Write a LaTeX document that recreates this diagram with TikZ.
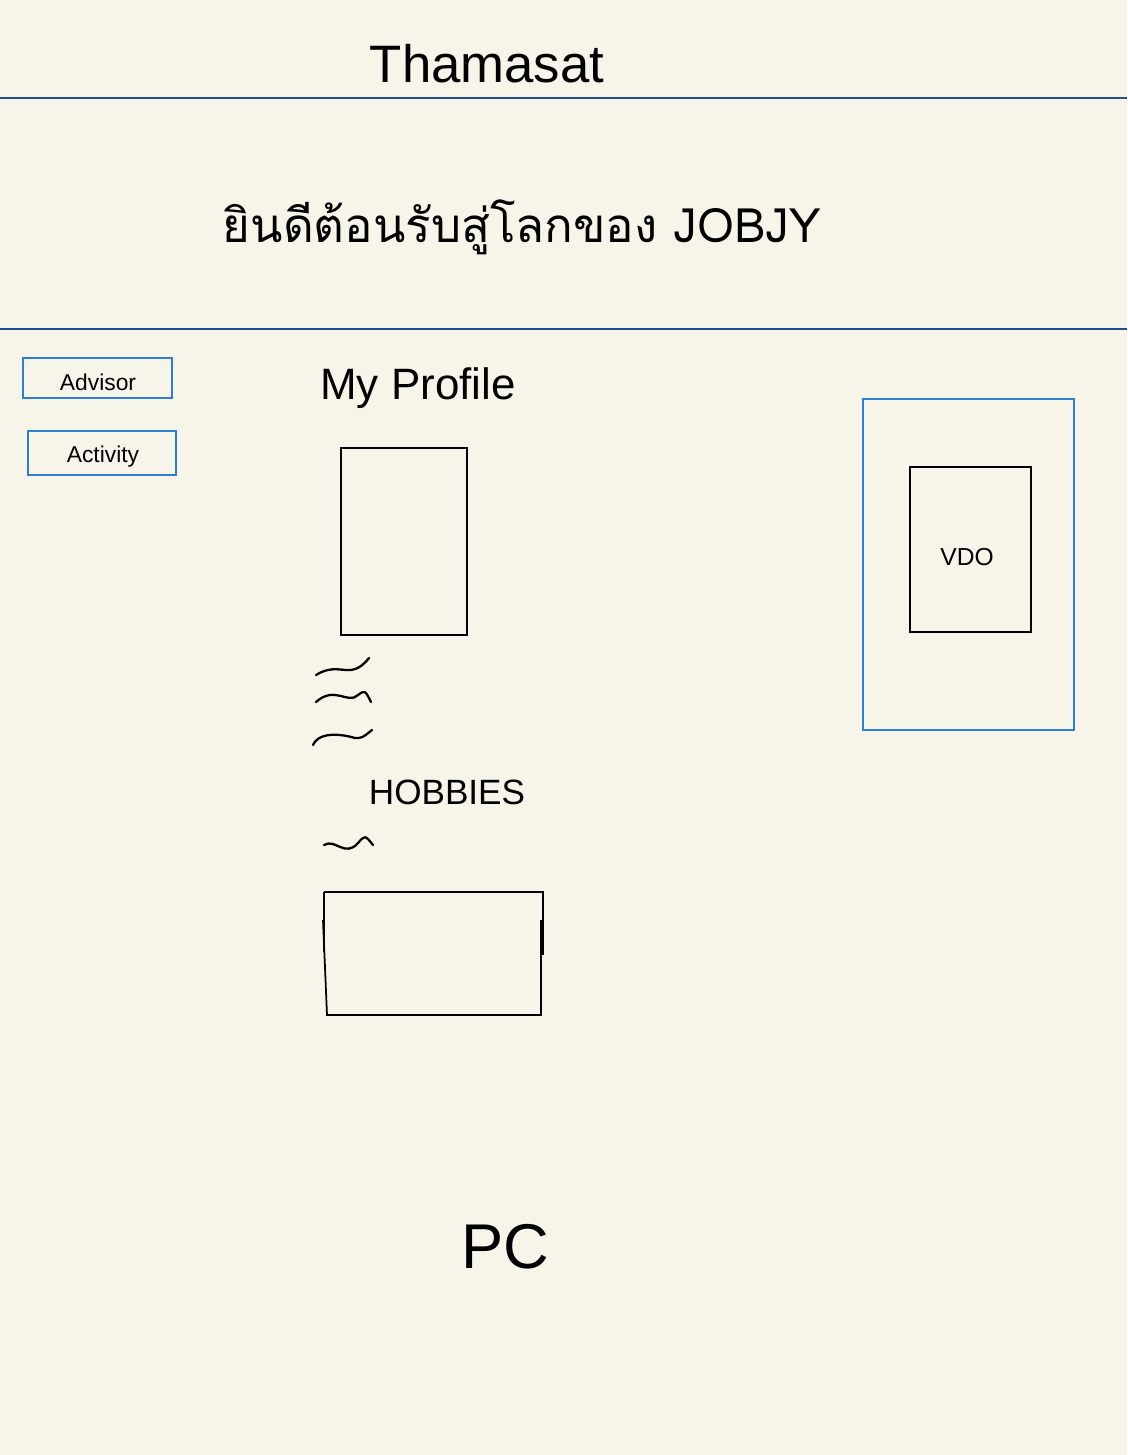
\documentclass[tikz,border=0pt]{standalone}
\usepackage{fontspec}
\setmainfont{Liberation Sans}
\newfontfamily\thaifont[Script=Thai]{Loma}
\usetikzlibrary{positioning}

\definecolor{paper}{HTML}{F7F5EA}
\definecolor{rule}{HTML}{1F4F8F}
\definecolor{frame}{HTML}{2B7FD6}

\tikzset{
	sketch/.style={draw=black, line width=1pt},
	tabbox/.style={draw=frame, line width=1.2pt},
	squiggle/.style={black, line width=1.3pt, line cap=round},
}

\begin{document}
\begin{tikzpicture}[x=0.02cm, y=-0.02cm]
		% paper
		\fill[paper] (0,0) rectangle (1127,1455);
		\useasboundingbox (0,0) rectangle (1127,1455);
		% header
		\node (title) at (487,64) {\fontsize{30}{32}\selectfont Thamasat};
		\coordinate (topL) at (0,98);
		\coordinate (topR) at (1127,98);
		\draw[rule, line width=1pt] (topL) -- (topR);
		\node (welcome) at (522,227) {\thaifont\fontsize{27}{30}\selectfont ยินดีต้อนรับสู่โลกของ JOBJY};
		\coordinate (botL) at (0,329);
		\coordinate (botR) at (1127,329);
		\draw[rule, line width=1pt] (botL) -- (botR);
		% menu
		\draw[tabbox] (23,358) rectangle (172,398);
		\node (advisor) at (98,382) {\fontsize{13}{14}\selectfont Advisor};
		\draw[tabbox] (28,431) rectangle (176,475);
		\node (activity) at (103,457) {\fontsize{13}{14}\selectfont Activity};
		% profile
		\node (myprofile) at (418,388) {\fontsize{25}{27}\selectfont My Profile};
		\draw[sketch] (341,448) rectangle (467,635);
		\draw[squiggle] (316,675) .. controls (340,660) and (350,682) .. (369,658);
		\draw[squiggle] (316,702) .. controls (335,685) and (348,705) .. (358,695) .. controls (365,690) .. (371,702);
		\draw[squiggle] (313,745) .. controls (320,730) and (345,735) .. (355,738) .. controls (362,738) .. (372,730);
		\node (hobbies) at (447,792) {\fontsize{20}{22}\selectfont HOBBIES};
		\draw[squiggle] (324,845) .. controls (335,838) and (345,858) .. (358,843) .. controls (365,835) .. (373,845);
		\draw[sketch] (324,892) -- (543,892) -- (543,955);
		\draw[sketch] (324,892) -- (324,952);
		\draw[sketch] (323,920) -- (327,1015) -- (541,1015) -- (541,920);
		% video
		\draw[tabbox] (863,399) rectangle (1074,730);
		\draw[sketch] (910,467) rectangle (1031,632);
		\node (vdo) at (967,557) {\fontsize{14}{16}\selectfont VDO};
		% footer
		\node (pc) at (505,1247) {\fontsize{36}{38}\selectfont PC};
\end{tikzpicture}
\end{document}
